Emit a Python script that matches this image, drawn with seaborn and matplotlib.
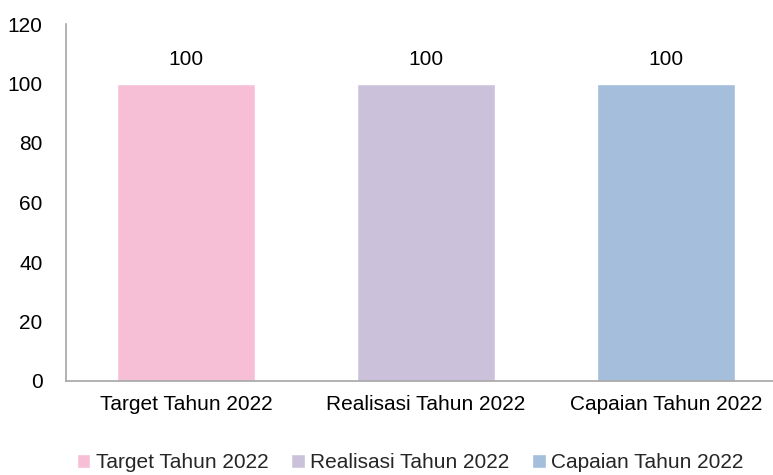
import matplotlib
matplotlib.use("Agg")
import matplotlib.pyplot as plt
import seaborn as sns
from matplotlib import font_manager

categories = ["Target Tahun 2022", "Realisasi Tahun 2022", "Capaian Tahun 2022"]
values = [100, 100, 100]
colors = ["#F7BFD5", "#CBC1DB", "#A4BEDC"]

sns.set_style("white")
names = {f.name for f in font_manager.fontManager.ttflist}
fam = "Liberation Sans Narrow" if "Liberation Sans Narrow" in names else "Liberation Sans"
plt.rcParams["font.family"] = [fam, "DejaVu Sans"]

fig = plt.figure(figsize=(7.73, 4.75), dpi=100)
ax = fig.add_axes([66 / 773, 94 / 475, 720 / 773, 357 / 475])

sns.barplot(x=categories, y=values, hue=categories, palette=colors,
            width=0.575, dodge=False, legend=True, ax=ax, saturation=1)

for i, v in enumerate(values):
    ax.text(i, v + 5, str(v), ha="center", va="bottom", fontsize=15, color="black")

ax.set_xlim(-0.5, 2.5)
ax.set_ylim(0, 120)
ax.set_yticks(range(0, 121, 20))
ax.tick_params(axis="both", length=0, labelsize=15, colors="black")
ax.tick_params(axis="y", pad=17)
ax.tick_params(axis="x", pad=10)
for s in ["top", "right"]:
    ax.spines[s].set_visible(False)
for s in ["left", "bottom"]:
    ax.spines[s].set_color("#A6A6A6")
    ax.spines[s].set_linewidth(1.2)

handles, labels = ax.get_legend_handles_labels()
ax.get_legend().remove()
fig.legend(handles, labels, loc="center", bbox_to_anchor=(410 / 773, 1 - 463 / 475),
           ncol=3, frameon=False, fontsize=15, handlelength=0.65, handleheight=0.65,
           handletextpad=0.25, columnspacing=1.1)

fig.savefig("out.png", dpi=100)
